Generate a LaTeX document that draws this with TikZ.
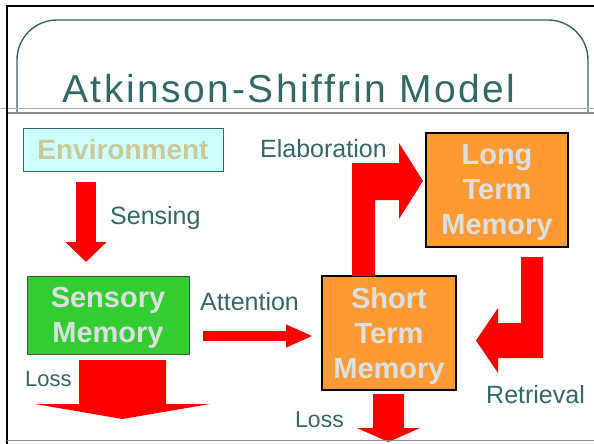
\documentclass[tikz,border=0pt]{standalone}
\usepackage{fontspec}
\setmainfont{Liberation Sans}
\newfontfamily\titlefont[LetterSpace=6.5]{Liberation Sans}
\usetikzlibrary{arrows.meta}

\definecolor{inkteal}{RGB}{51,104,104}
\definecolor{boxtext}{RGB}{218,224,224}
\definecolor{envtext}{RGB}{204,200,150}
\definecolor{envfill}{RGB}{204,255,255}
\definecolor{smfill}{RGB}{51,204,51}
\definecolor{memfill}{RGB}{255,153,51}
\definecolor{arrowred}{RGB}{255,0,0}

\tikzset{
  membox/.style={draw=black, line width=1.2pt, fill=memfill, text=boxtext,
    font=\fontsize{29}{35}\selectfont\bfseries, align=center, inner sep=0pt,
    text depth=0pt},
  lbl/.style={text=inkteal, anchor=base west, inner sep=0pt,
    font=\fontsize{25}{30}\selectfont},
  blockarrow/.style={draw=none, fill=arrowred},
  flow/.style={arrowred, line width=#1},
}

\begin{document}
\begin{tikzpicture}[x=1pt,y=-1pt]
\useasboundingbox (0,0) rectangle (594,444);
\fill[white] (0,0) rectangle (594,444);

% slide frame
\draw[inkteal, line width=1.4pt, rounded corners=40pt]
  (17,113) -- (17,20) -- (588,20) -- (588,113);
\draw[gray!60, line width=1pt] (0,108) -- (594,108);
\draw[gray!90, line width=1.2pt] (7,113) -- (594,113);
\draw[black, line width=2.5pt] (7,444) -- (7,6) -- (594,6);

% title
\node[anchor=base west, inner sep=0pt, text=inkteal,
      font=\titlefont\fontsize{39}{40}\selectfont] (title) at (62,102)
  {Atkinson-Shiffrin Model};

% stores
\node[draw=inkteal, line width=0.8pt, fill=envfill, text=envtext,
      font=\fontsize{28}{32}\selectfont\bfseries,
      minimum width=200pt, minimum height=43pt, inner sep=0pt]
  (env) at (123,149.5) {Environment};
\node[membox, draw=black!70, fill=smfill, line width=0.8pt,
      minimum width=162pt, minimum height=78pt]
  (sm) at (108,315) {Sensory\\Memory};
\node[membox, minimum width=134pt, minimum height=114pt]
  (stm) at (389,333) {Short\\Term\\Memory};
\node[membox, minimum width=142pt, minimum height=114pt]
  (ltm) at (497,190) {Long\\Term\\Memory};

% arrow end points
\coordinate (senseA) at (86,182);
\coordinate (senseB) at (86,262);
\coordinate (attA) at (203,336);
\coordinate (attB) at (313,336);

% straight flows
\draw[flow=20pt, -{Triangle[width=40pt,length=20pt]}] (senseA) -- (senseB);
\draw[flow=10pt, -{Triangle[width=21pt,length=27pt]}] (attA) -- (attB);

% loss out of sensory memory
\fill[blockarrow] (79,360) -- (166,360) -- (166,404) -- (210,404)
  -- (122.5,419) -- (35,404) -- (79,404) -- cycle;
% loss out of short term memory
\fill[blockarrow] (373,394) -- (404,394) -- (404,428) -- (420,428)
  -- (388.5,442) -- (357,428) -- (373,428) -- cycle;

% elaboration: short term -> long term
\fill[blockarrow] (352,276) -- (352,163) -- (399,163) -- (399,143)
  -- (423,181) -- (399,219) -- (399,200) -- (375,200) -- (375,276) -- cycle;
% retrieval: long term -> short term
\fill[blockarrow] (521,257) -- (543,257) -- (543,358) -- (498,358)
  -- (498,373) -- (476,340.5) -- (498,308) -- (498,323) -- (521,323) -- cycle;

% bottom rule
\draw[gray!90, line width=1.2pt] (7,440.5) -- (594,440.5);

% labels
\node[lbl] (lsense) at (110,224) {Sensing};
\node[lbl] (latt) at (200,310) {Attention};
\node[lbl] (lelab) at (260,157) {Elaboration};
\node[lbl] (lret) at (486,403) {Retrieval};
\node[lbl, font=\fontsize{22}{26}\selectfont] (lloss) at (25,386) {Loss};
\node[lbl, font=\fontsize{23}{26}\selectfont] (lloss2) at (295,427) {Loss};
\end{tikzpicture}
\end{document}
